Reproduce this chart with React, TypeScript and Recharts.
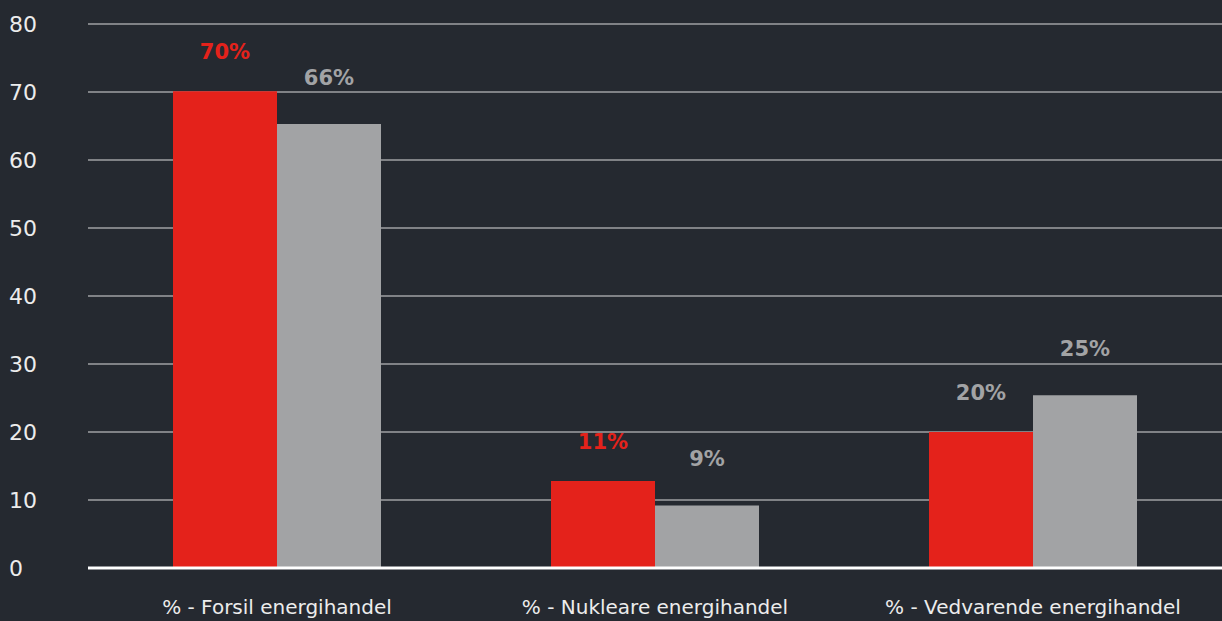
import { BarChart, Bar, XAxis, YAxis, CartesianGrid, LabelList } from "recharts";

const categories = ["% - Forsil energihandel", "% - Nukleare energihandel", "% - Vedvarende energihandel"];
const redValues = [70.1, 12.8, 20];
const grayValues = [65.3, 9.2, 25.4];
const redLabels = ["70%", "11%", "20%"];
const grayLabels = ["66%", "9%", "25%"];
const redLabelColors = ["#e4221b", "#e4221b", "#a2a3a5"];
const yTicks = [0, 10, 20, 30, 40, 50, 60, 70, 80];

const BG = "#252930";
const RED = "#e4221b";
const GRAY = "#a2a3a5";
const FONT = "'DejaVu Sans', sans-serif";

const data = categories.map((name, i) => ({
  name,
  red: redValues[i],
  gray: grayValues[i],
}));

function makeLabel(labels: string[], colors: string[], lift: number) {
  return (props: any) => {
    const { x, y, width, index } = props;
    return (
      <text
        x={x + width / 2}
        y={y - lift}
        textAnchor="middle"
        dominantBaseline="central"
        fill={colors[index]}
        fontSize={21}
        fontWeight="bold"
        fontFamily={FONT}
      >
        {labels[index]}
      </text>
    );
  };
}

const YTick = (props: any) => {
  const { y, payload } = props;
  return (
    <text x={9} y={y} dominantBaseline="central" fill="#ececec" fontSize={22} fontFamily={FONT}>
      {payload.value}
    </text>
  );
};

export default function App() {
  return (
    <div style={{ position: "absolute", left: 0, top: 0, width: 1222, height: 621, background: BG }}>
      <BarChart
        width={1222}
        height={621}
        data={data}
        margin={{ top: 24, right: 0, left: 0, bottom: 0 }}
        barCategoryGap={85}
        barGap={0}
      >
        <CartesianGrid vertical={false} stroke="#dcdcdc" strokeWidth={1} />
        <XAxis
          dataKey="name"
          height={53}
          axisLine={{ stroke: "#ffffff", strokeWidth: 3 }}
          tickLine={false}
          tick={{ fill: "#ececec", fontSize: 20, fontFamily: FONT }}
          tickMargin={26}
        />
        <YAxis
          width={88}
          domain={[0, 80]}
          ticks={yTicks}
          axisLine={false}
          tickLine={false}
          tick={<YTick />}
        />
        <Bar dataKey="red" fill={RED} isAnimationActive={false}>
          <LabelList dataKey="red" content={makeLabel(redLabels, redLabelColors, 39)} />
        </Bar>
        <Bar dataKey="gray" fill={GRAY} isAnimationActive={false}>
          <LabelList dataKey="gray" content={makeLabel(grayLabels, [GRAY, GRAY, GRAY], 46)} />
        </Bar>
      </BarChart>
    </div>
  );
}
